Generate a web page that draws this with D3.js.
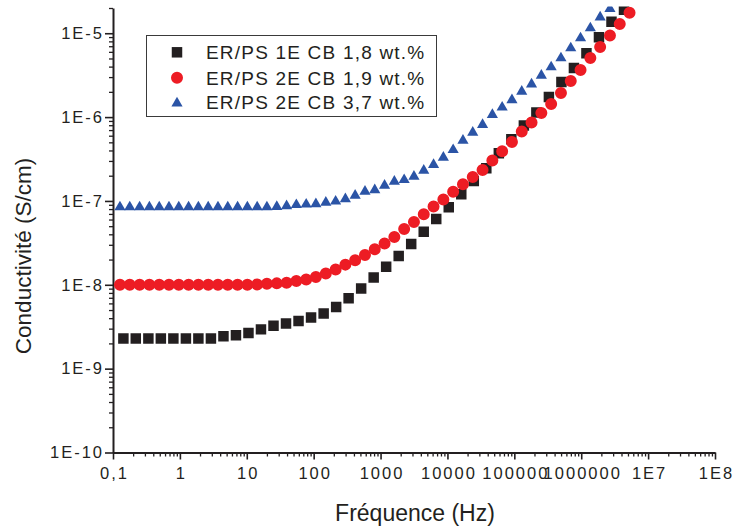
<!DOCTYPE html>
<html><head><meta charset="utf-8">
<script src="https://cdn.jsdelivr.net/npm/d3@7"></script>
<style>
body{margin:0;background:#fff}
svg{display:block}
text{font-family:"Liberation Sans",Arial,Helvetica,sans-serif;fill:#231f20}
</style>
</head><body>
<svg id="c" width="733" height="526"></svg>
<script>
// ---- data ----
const seriesNames = ["ER/PS 1E CB 1,8 wt.%", "ER/PS 2E CB 1,9 wt.%", "ER/PS 2E CB 3,7 wt.%"];
const seriesColors = ["#231f20", "#ed1c24", "#2b54a6"];

// series 1 (squares)
const freqA = [0.143,0.219,0.338,0.519,0.799,1.23,1.89,2.91,4.48,6.89,10.6,16.3,25.1,38.6,59.4,91.4,141,217,333,513,789,1213,1867,2872,4420,6800,10460,16100,24770,38120,58650,90250,138900,213600,328700,505800,778200,1197000,1842000,2835000,4361000];
const sigmaA = [2.29e-9,2.29e-9,2.29e-9,2.29e-9,2.29e-9,2.29e-9,2.29e-9,2.29e-9,2.44e-9,2.51e-9,2.67e-9,2.94e-9,3.24e-9,3.46e-9,3.69e-9,4.08e-9,4.56e-9,5.45e-9,6.89e-9,9.06e-9,1.22e-8,1.64e-8,2.20e-8,3.06e-8,4.28e-8,6.08e-8,8.40e-8,1.20e-7,1.73e-7,2.45e-7,3.70e-7,5.43e-7,7.94e-7,1.135e-6,1.74e-6,2.62e-6,3.85e-6,5.77e-6,8.95e-6,1.37e-5,1.90e-5];

// series 2 (circles) and 3 (triangles) share the frequency sweep
const freqB = [0.127,0.178,0.250,0.350,0.491,0.687,0.963,1.35,1.89,2.65,3.71,5.20,7.29,10.2,14.3,20.0,28.1,39.4,55.1,77.3,108,152,213,298,417,585,819,1148,1608,2254,3158,4425,6200,8688,12170,17060,23900,33490,46930,65750,92130,129100,180900,253500,355200,497700,697300,977000,1369000,1918000,2688000,3766000,5277000];
const sigmaB = [1.0e-8,1.0e-8,1.0e-8,1.0e-8,1.0e-8,1.0e-8,1.0e-8,1.0e-8,1.0e-8,1.0e-8,1.0e-8,1.0e-8,1.0e-8,1.0e-8,1.01e-8,1.03e-8,1.04e-8,1.06e-8,1.11e-8,1.16e-8,1.24e-8,1.36e-8,1.52e-8,1.74e-8,1.96e-8,2.27e-8,2.65e-8,3.10e-8,3.71e-8,4.62e-8,5.60e-8,6.92e-8,8.58e-8,1.04e-7,1.29e-7,1.58e-7,1.93e-7,2.34e-7,3.03e-7,3.91e-7,5.05e-7,6.73e-7,8.62e-7,1.12e-6,1.43e-6,1.94e-6,2.70e-6,3.65e-6,5.07e-6,6.86e-6,9.41e-6,1.29e-5,1.76e-5];
const sigmaC = [8.8e-8,8.8e-8,8.8e-8,8.8e-8,8.8e-8,8.8e-8,8.8e-8,8.8e-8,8.8e-8,8.8e-8,8.8e-8,8.8e-8,8.8e-8,8.8e-8,8.8e-8,8.8e-8,8.9e-8,9.06e-8,9.36e-8,9.49e-8,9.57e-8,9.97e-8,1.03e-7,1.10e-7,1.21e-7,1.35e-7,1.41e-7,1.59e-7,1.78e-7,1.86e-7,2.04e-7,2.40e-7,2.81e-7,3.44e-7,4.24e-7,5.48e-7,6.83e-7,8.43e-7,1.11e-6,1.36e-6,1.67e-6,2.11e-6,2.57e-6,3.27e-6,4.11e-6,5.26e-6,6.92e-6,9.11e-6,1.20e-5,1.62e-5,2.04e-5];

const xTickValues = [0.1,1,10,100,1000,1e4,1e5,1e6,1e7,1e8];
const xTickLabels = ["0,1","1","10","100","1000","10000","100000","1000000","1E7","1E8"];
const yTickValues = [1e-10,1e-9,1e-8,1e-7,1e-6,1e-5];
const yTickLabels = ["1E-10","1E-9","1E-8","1E-7","1E-6","1E-5"];
const xTitle = "Fréquence (Hz)";
const yTitle = "Conductivité (S/cm)";

// ---- layout ----
const svg = d3.select("#c");
const L = 113, R = 715, T = 8, B = 452.5;
const x = d3.scaleLog().domain([0.1, 1e8]).range([L, R]);
const y = d3.scaleLog().domain([1e-10, 2e-5]).range([B, T]);
const ink = "#231f20";

function minorTicks(domain) {
  const out = [];
  const lo = Math.floor(Math.log10(domain[0])), hi = Math.ceil(Math.log10(domain[1]));
  for (let e = lo; e < hi; e++) for (let m = 2; m <= 9; m++) {
    const v = m * Math.pow(10, e);
    if (v >= domain[0] * 0.999 && v <= domain[1] * 1.001) out.push(v);
  }
  return out;
}

// minor ticks
svg.append("g").attr("transform", `translate(0,${B})`)
  .call(d3.axisBottom(x).tickValues(minorTicks(x.domain())).tickSize(4).tickSizeOuter(0).tickFormat(""))
  .call(g => g.select(".domain").remove())
  .call(g => g.selectAll("line").attr("stroke", ink).attr("stroke-width", 1.3));
svg.append("g").attr("transform", `translate(${L},0)`)
  .call(d3.axisLeft(y).tickValues(minorTicks(y.domain())).tickSize(4).tickSizeOuter(0).tickFormat(""))
  .call(g => g.select(".domain").remove())
  .call(g => g.selectAll("line").attr("stroke", ink).attr("stroke-width", 1.3));

// major axes
const gx = svg.append("g").attr("transform", `translate(0,${B})`)
  .call(d3.axisBottom(x).tickValues(xTickValues).tickFormat((d, i) => xTickLabels[i]).tickSize(7).tickSizeOuter(0).tickPadding(8));
const gy = svg.append("g").attr("transform", `translate(${L},0)`)
  .call(d3.axisLeft(y).tickValues(yTickValues).tickFormat((d, i) => yTickLabels[i]).tickSize(8).tickSizeOuter(0).tickPadding(4));
[gx, gy].forEach(g => {
  g.select(".domain").attr("stroke", ink).attr("stroke-width", 2);
  g.selectAll(".tick line").attr("stroke", ink).attr("stroke-width", 1.6);
  g.selectAll(".tick text").attr("fill", ink).style("font-size", "16.5px").style("letter-spacing", "2px")
    .style("font-family", '"Liberation Sans",Arial,sans-serif');
});
gx.selectAll(".tick text").attr("dx", "1px");
gy.selectAll(".tick text").attr("dx", "3px");

// axis titles
svg.append("text").attr("x", 415).attr("y", 521).attr("text-anchor", "middle")
  .style("font-size", "23px").text(xTitle);
svg.append("text").attr("transform", "translate(31,256) rotate(-90)").attr("text-anchor", "middle")
  .style("font-size", "22.5px").text(yTitle);

// clip
svg.append("clipPath").attr("id", "clip").append("rect")
  .attr("x", L).attr("y", 6.5).attr("width", 733 - L).attr("height", B - 6.5);
const plot = svg.append("g").attr("clip-path", "url(#clip)");

const symSquare = d3.symbol().type(d3.symbolSquare).size(110);
const symCircle = d3.symbol().type(d3.symbolCircle).size(113);
const symTri = d3.symbol().type(d3.symbolTriangle).size(54);

function drawSeries(freq, sig, sym, color, dy) {
  plot.append("g").selectAll("path").data(freq.map((f, i) => [f, sig[i]])).join("path")
    .attr("d", sym())
    .attr("transform", d => `translate(${x(d[0])},${y(d[1]) + dy})`)
    .attr("fill", color);
}
drawSeries(freqA, sigmaA, symSquare, seriesColors[0], 0);
drawSeries(freqB, sigmaC, symTri, seriesColors[2], 1.5);
drawSeries(freqB, sigmaB, symCircle, seriesColors[1], 0);

// legend
const lg = svg.append("g");
lg.append("rect").attr("x", 146.5).attr("y", 35.5).attr("width", 290).attr("height", 81)
  .attr("fill", "#fff").attr("stroke", "#3a3a3a").attr("stroke-width", 1);
const syms = [symSquare, symCircle, symTri];
const rowsY = [52.3, 77.7, 101.7];
seriesNames.forEach((n, i) => {
  lg.append("path").attr("d", syms[i]()).attr("fill", seriesColors[i])
    .attr("transform", `translate(177,${rowsY[i] + (i === 2 ? 1.5 : 0)})`);
  lg.append("text").attr("x", 206).attr("y", rowsY[i] + 7)
    .style("font-size", "19px").style("letter-spacing", "1.2px").text(n);
});
</script>
</body></html>
